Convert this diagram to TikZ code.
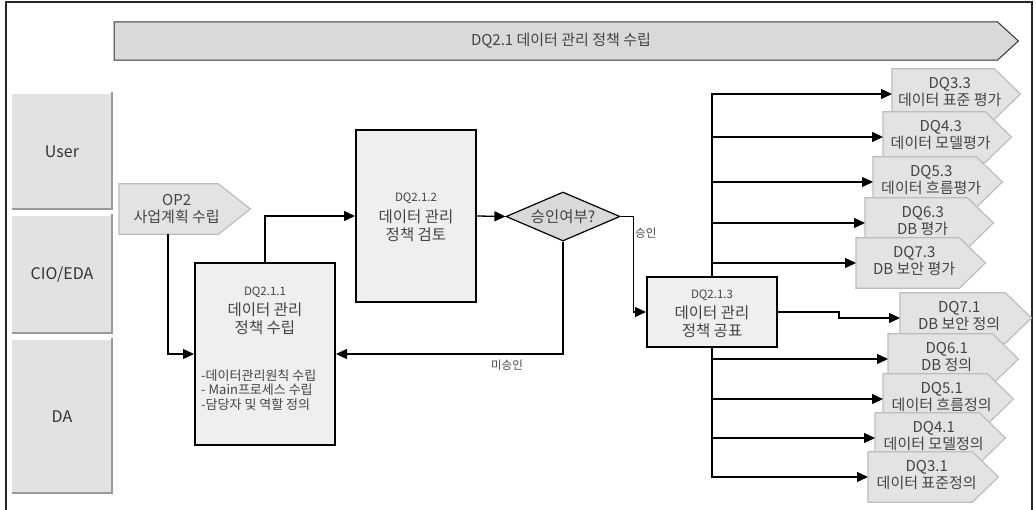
\documentclass[tikz,border=0pt]{standalone}
\usepackage{fontspec}
\setmainfont{Noto Sans CJK KR}
\usetikzlibrary{arrows.meta,shapes.geometric,calc}
\definecolor{txt}{HTML}{444444}
\definecolor{lanefill}{HTML}{E2E2E4}
\definecolor{laneshadow}{HTML}{9A9A9A}
\definecolor{boxfill}{HTML}{EEEFEF}
\definecolor{pentfill}{HTML}{E3E3E3}
\definecolor{pentline}{HTML}{BDBDBD}
\definecolor{diafill}{HTML}{D9D9D9}
\definecolor{bannerfill}{HTML}{D9D9D9}
\tikzset{
  lanebox/.style={fill=lanefill, draw=none, minimum width=100pt, inner sep=0pt, text=black!80, font=\fontsize{16}{19}\selectfont},
  laneshade/.style={draw=laneshadow, line width=2pt},
  procbox/.style={draw=black, line width=2pt, fill=boxfill, inner sep=0pt},
  idtext/.style={text=txt, font=\fontsize{11.5}{13}\selectfont, inner sep=0pt},
  maintext/.style={text=txt, font=\fontsize{15.5}{18}\selectfont, align=center, inner sep=0pt},
  bullettext/.style={text=txt, font=\fontsize{13}{14.5}\selectfont, align=left, inner sep=0pt},
  smalllabel/.style={text=txt, font=\fontsize{11.5}{13}\selectfont, inner sep=0pt},
  geom/.style={draw=none, inner sep=0pt, anchor=west},
  pentshape/.style={fill=pentfill, draw=pentline, line width=1.2pt},
  bannershape/.style={fill=bannerfill, draw=black!80, line width=1pt},
  penttext/.style={text=txt, font=\fontsize{15}{17}\selectfont, align=center, inner sep=0pt},
  pentup/.style={penttext, yshift=2.5pt},
  conn/.style={draw=black, line width=1.3pt, -{Triangle[length=11pt,width=10pt]}},
  decision/.style={diamond, draw=black, line width=1.2pt, fill=diafill, minimum width=114pt, minimum height=49pt, inner sep=0pt},
}
% name, left x, center y, width, height, depth, shape style, text, text style
\newcommand\arrowbox[9]{%
  \node[geom, minimum width=#4 pt, minimum height=#5 pt] (#1) at (#2,#3) {};
  \path[#7] (#1.north west) -- ([xshift=-#6 pt]#1.north east) -- (#1.east) -- ([xshift=-#6 pt]#1.south east) -- (#1.south west) -- cycle;
  \node[#9] (#1t) at ([xshift=-0.25*#6 pt]#1.center) {#8};
}
\begin{document}
\begin{tikzpicture}[x=1pt,y=-1pt]
\useasboundingbox (0,0) rectangle (1036,509);
% outer frame
\draw[draw=black!85, line width=1.3pt] (6,530) -- (6,2) -- (1032,2) -- (1032,530);

% banner
\arrowbox{banner}{114}{41}{904}{38}{21}{bannershape}{DQ2.1 데이터 관리 정책 수립}{penttext}

% lanes
\node[lanebox, minimum height=115pt] (lu) at (62,151.5) {User};
\draw[laneshade] ([yshift=2pt]lu.north east) -- (lu.south east) -- (lu.south west);
\node[lanebox, minimum height=117pt] (lc) at (62,274.5) {CIO/EDA};
\draw[laneshade] ([yshift=2pt]lc.north east) -- (lc.south east) -- (lc.south west);
\node[lanebox, minimum height=153pt] (ld) at (62,416.5) {DA};
\draw[laneshade] ([yshift=2pt]ld.north east) -- (ld.south east) -- (ld.south west);

% OP2
\arrowbox{op2}{119}{209}{131}{50}{32}{pentshape}{OP2\\사업계획 수립}{penttext}

% process boxes
\node[procbox, minimum width=140pt, minimum height=182pt] (b1) at (265,354) {};
\node[idtext] (b1id) at (265,292) {DQ2.1.1};
\node[maintext] (b1t) at (265,319) {데이터 관리\\정책 수립};
\node[bullettext, anchor=west] (b1b) at (201,390) {-데이터관리원칙 수립\\- Main프로세스 수립\\-담당자 및 역할 정의};

\node[procbox, minimum width=120pt, minimum height=172pt] (b2) at (416,216) {};
\node[idtext] (b2id) at (416,198) {DQ2.1.2};
\node[maintext] (b2t) at (416,226) {데이터 관리\\정책 검토};

\node[decision] (dia) at (563,216.5) {};
\node[maintext] (diat) at (563,216.5) {승인여부?};

\node[procbox, minimum width=130pt, minimum height=70pt] (b3) at (712,312) {};
\node[idtext] (b3id) at (712,295) {DQ2.1.3};
\node[maintext] (b3t) at (712,321.5) {데이터 관리\\정책 공표};

% connectors of main flow
\draw[conn] ([xshift=49pt]op2.south west) |- (b1.west);
\draw[conn] (b1.north) |- (b2.west);
\draw[conn] (b2.east) -- (dia.west);
\draw[conn] (dia.east) -- ++(13,0) |- (b3.west);
\draw[conn] (dia.south) |- (b1.east);
\node[smalllabel, anchor=west] (lyes) at (635,233) {승인};
\node[smalllabel] (lno) at (507,365) {미승인};

% right pentagons, top group
\arrowbox{p33}{892}{94}{128}{50}{26}{pentshape}{DQ3.3\\데이터 표준 평가}{pentup}
\arrowbox{p43}{883}{137}{128}{50}{26}{pentshape}{DQ4.3\\데이터 모델평가}{pentup}
\arrowbox{p53}{873}{182}{129}{50}{26}{pentshape}{DQ5.3\\데이터 흐름평가}{pentup}
\arrowbox{p63}{865}{223}{128}{50}{26}{pentshape}{DQ6.3\\DB 평가}{pentup}
\arrowbox{p73}{856}{263}{129}{50}{26}{pentshape}{DQ7.3\\DB 보안 평가}{pentup}
% bottom group
\arrowbox{p71}{900}{318}{131}{50}{26}{pentshape}{DQ7.1\\DB 보안 정의}{pentup}
\arrowbox{p61}{888}{359}{130}{50}{26}{pentshape}{DQ6.1\\DB 정의}{pentup}
\arrowbox{p51}{883}{399}{130}{50}{26}{pentshape}{DQ5.1\\데이터 흐름정의}{pentup}
\arrowbox{p41}{875}{438}{130}{50}{26}{pentshape}{DQ4.1\\데이터 모델정의}{pentup}
\arrowbox{p31}{868}{477}{130}{50}{26}{pentshape}{DQ3.1\\데이터 표준정의}{pentup}

% branches
\foreach \p in {p33,p43,p53,p63,p73} {\draw[conn] (b3.north) |- (\p.west);}
\foreach \p in {p61,p51,p41,p31} {\draw[conn] (b3.south) |- (\p.west);}
\draw[conn] (b3.east) -- ++(61,0) |- (p71.west);
\end{tikzpicture}
\end{document}
